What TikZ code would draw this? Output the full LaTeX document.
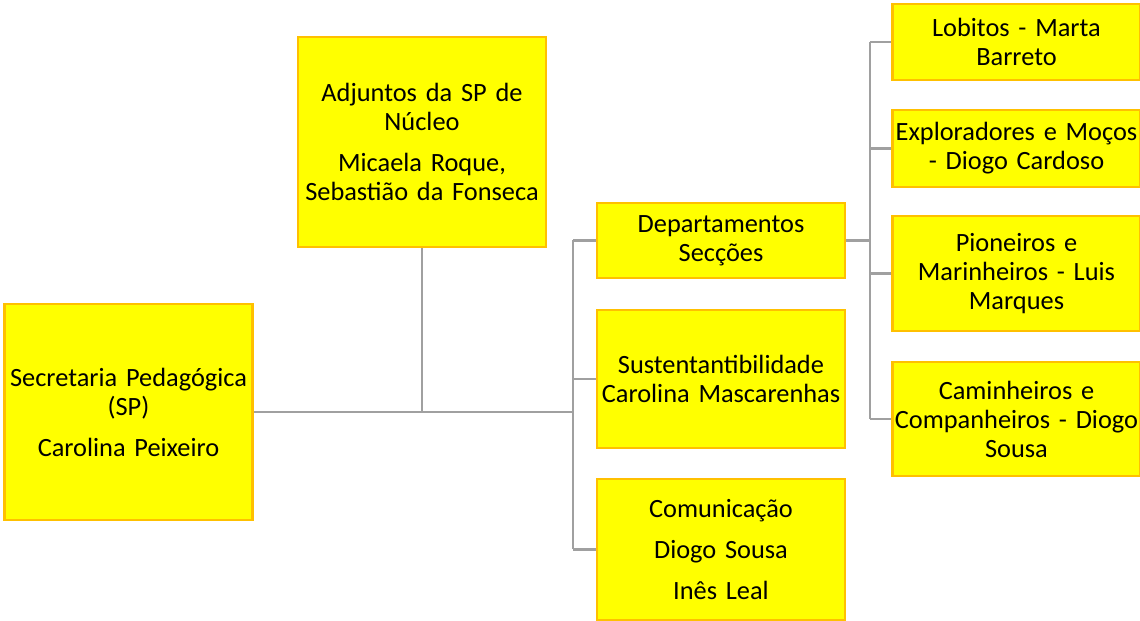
\documentclass[tikz,border=0pt]{standalone}
\usepackage{fontspec}
\setmainfont{Carlito}[WordSpace=0.85]
\usetikzlibrary{calc}
\definecolor{boxfill}{HTML}{FFFF00}
\definecolor{boxline}{HTML}{FFC000}
\definecolor{linkgray}{HTML}{A0A0A0}
\tikzset{every node/.style={font=\fontsize{15}{16.5}\selectfont, align=center},
  unit/.style={draw=boxline, fill=boxfill, line width=1.5pt, inner sep=0pt,
    text width=5.1cm, minimum width=4.96cm},
  link/.style={draw=linkgray, line width=1.2pt}}

\begin{document}
\begin{tikzpicture}[x=0.02cm,y=-0.02cm]
   \useasboundingbox (0,0) rectangle (1140,621);
   % main boxes
   \node[unit, minimum height=4.32cm, text width=4.96cm] (sp) at (128.5,412) {Secretaria Pedagógica\\(SP)\\[0.24cm]Carolina Peixeiro};
   \node[unit, minimum height=4.2cm, text width=4.96cm] (adj) at (422,142) {Adjuntos da SP de\\Núcleo\\[0.24cm]Micaela Roque,\\Sebastião da Fonseca};
   \node[unit, minimum height=1.5cm, text width=4.96cm] (dep) at (721,240.5) {Departamentos\\Secções};
   \node[unit, minimum height=2.76cm, text width=4.96cm] (sus) at (721,379) {Sustentantibilidade\\Carolina Mascarenhas};
   \node[unit, minimum height=2.82cm, text width=4.96cm] (com) at (721,549.5) {Comunicação\\[0.24cm]Diogo Sousa\\[0.24cm]Inês Leal};
   % seccoes
   \node[unit, minimum height=1.52cm, text width=4.94cm] (lob) at (1016.5,42) {Lobitos - Marta\\Barreto};
   \node[unit, minimum height=1.54cm, text width=4.94cm] (exp) at (1016.5,148.5) {Exploradores e Moços\\- Diogo Cardoso};
   \node[unit, minimum height=2.3cm, text width=4.94cm] (pio) at (1016.5,273.5) {Pioneiros e\\Marinheiros - Luis\\Marques};
   \node[unit, minimum height=2.28cm, text width=4.94cm] (cam) at (1016.5,419) {Caminheiros e\\Companheiros - Diogo\\Sousa};
   % connectors
   \coordinate (busA) at (573,412);
   \coordinate (busB) at (870,240.5);
   \draw[link] (sp.east) -- (busA);
   \draw[link] (adj.south) -- (adj.south |- sp.east);
   \draw[link] (busA |- dep.west) -- (busA |- com.west);
   \foreach \n in {dep,sus,com}
     \draw[link] (\n.west) -- (\n.west -| busA);
   \draw[link] (dep.east) -- (busB);
   \draw[link] (busB |- lob.west) -- (busB |- cam.west);
   \foreach \n in {lob,exp,pio,cam}
     \draw[link] (\n.west) -- (\n.west -| busB);
\end{tikzpicture}
\end{document}
